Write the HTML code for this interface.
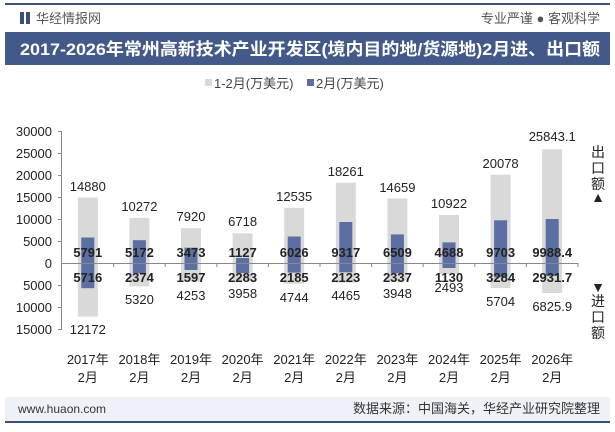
<!DOCTYPE html>
<html><head><meta charset="utf-8"><style>
body{margin:0;width:615px;height:427px;overflow:hidden;background:#fff;font-family:"Liberation Sans","Noto Sans CJK SC",sans-serif}
</style></head><body>
<svg width="615" height="427" viewBox="0 0 615 427" xmlns="http://www.w3.org/2000/svg" font-family="Liberation Sans, Noto Sans CJK SC, sans-serif">
<rect x="5" y="3" width="605" height="2" fill="#3a4f7a"/>
<rect x="20" y="12" width="4" height="12" fill="#3a4f7a"/><rect x="26" y="12" width="4" height="12" fill="#3a4f7a"/>
<text x="36" y="23" font-size="13" fill="#555">华经情报网</text>
<text x="600" y="23" font-size="13" fill="#555" text-anchor="end">专业严谨 ● 客观科学</text>
<rect x="5" y="32" width="605" height="33" fill="#43598a"/>
<text x="20" y="55" font-size="17" font-weight="bold" fill="#fff" textLength="580" lengthAdjust="spacingAndGlyphs">2017-2026年常州高新技术产业开发区(境内目的地/货源地)2月进、出口额</text>
<rect x="205" y="79" width="7" height="7" fill="#d9d9d9"/><text x="214" y="88" font-size="13" fill="#444">1-2月(万美元)</text>
<rect x="307" y="79" width="7" height="7" fill="#5b6fa3"/><text x="316" y="88" font-size="13" fill="#444">2月(万美元)</text>
<g font-size="13" fill="#222" text-anchor="end">
<text x="52" y="136">30000</text><text x="52" y="158">25000</text><text x="52" y="180">20000</text><text x="52" y="202">15000</text><text x="52" y="224">10000</text><text x="52" y="246">5000</text><text x="52" y="268">0</text><text x="52" y="290">5000</text><text x="52" y="312">10000</text><text x="52" y="334">15000</text>
</g>
<line x1="61.5" y1="131" x2="61.5" y2="329" stroke="#888"/>
<g stroke="#888"><line x1="58" y1="131.5" x2="62" y2="131.5"/><line x1="58" y1="153.5" x2="62" y2="153.5"/><line x1="58" y1="175.5" x2="62" y2="175.5"/><line x1="58" y1="197.5" x2="62" y2="197.5"/><line x1="58" y1="219.5" x2="62" y2="219.5"/><line x1="58" y1="241.5" x2="62" y2="241.5"/><line x1="58" y1="285.5" x2="62" y2="285.5"/><line x1="58" y1="307.5" x2="62" y2="307.5"/><line x1="58" y1="329.5" x2="62" y2="329.5"/></g>
<g fill="#d9d9d9">
<rect x="77.8" y="197.5" width="20" height="119.1"/><rect x="129.4" y="217.8" width="20" height="68.6"/><rect x="181" y="228.2" width="20" height="53.5"/><rect x="232.6" y="233.4" width="20" height="47"/><rect x="284.2" y="207.8" width="20" height="76.1"/><rect x="335.8" y="182.7" width="20" height="99.9"/><rect x="387.4" y="198.5" width="20" height="81.9"/><rect x="439" y="214.9" width="20" height="59.1"/><rect x="490.6" y="174.7" width="20" height="113.4"/><rect x="542.2" y="149.3" width="20" height="143.7"/>
</g>
<g fill="#5b6fa3">
<rect x="81.3" y="237.5" width="13" height="50.7"/><rect x="132.9" y="240.2" width="13" height="33.2"/><rect x="184.5" y="247.7" width="13" height="22.3"/><rect x="236.1" y="258" width="13" height="15"/><rect x="287.7" y="236.5" width="13" height="36.1"/><rect x="339.3" y="222" width="13" height="50.3"/><rect x="390.9" y="234.4" width="13" height="38.9"/><rect x="442.5" y="242.4" width="13" height="25.6"/><rect x="494.1" y="220.3" width="13" height="57.1"/><rect x="545.7" y="219" width="13" height="56.9"/>
</g>
<line x1="62" y1="263.5" x2="578" y2="263.5" stroke="#888"/>
<g stroke="#888"><line x1="113.6" y1="263" x2="113.6" y2="267"/><line x1="165.2" y1="263" x2="165.2" y2="267"/><line x1="216.8" y1="263" x2="216.8" y2="267"/><line x1="268.4" y1="263" x2="268.4" y2="267"/><line x1="320" y1="263" x2="320" y2="267"/><line x1="371.6" y1="263" x2="371.6" y2="267"/><line x1="423.2" y1="263" x2="423.2" y2="267"/><line x1="474.8" y1="263" x2="474.8" y2="267"/><line x1="526.4" y1="263" x2="526.4" y2="267"/><line x1="578" y1="263" x2="578" y2="267"/></g>
<g font-size="13" fill="#222" text-anchor="middle">
<text x="87.8" y="191">14880</text><text x="139.4" y="211">10272</text><text x="191" y="221">7920</text><text x="242.6" y="226">6718</text><text x="294.2" y="201">12535</text><text x="345.8" y="176">18261</text><text x="397.4" y="192">14659</text><text x="449" y="208">10922</text><text x="500.6" y="168">20078</text><text x="552.2" y="141">25843.1</text>
<text x="87.8" y="334">12172</text><text x="139.4" y="304">5320</text><text x="191" y="300">4253</text><text x="242.6" y="298">3958</text><text x="294.2" y="302">4744</text><text x="345.8" y="300">4465</text><text x="397.4" y="298">3948</text><text x="449" y="292">2493</text><text x="500.6" y="306">5704</text><text x="552.2" y="311">6825.9</text>
</g>
<g font-size="13" font-weight="bold" fill="#222" text-anchor="middle">
<text x="87.8" y="257">5791</text><text x="139.4" y="257">5172</text><text x="191" y="257">3473</text><text x="242.6" y="257">1127</text><text x="294.2" y="257">6026</text><text x="345.8" y="257">9317</text><text x="397.4" y="257">6509</text><text x="449" y="257">4688</text><text x="500.6" y="257">9703</text><text x="552.2" y="257">9988.4</text>
<text x="87.8" y="282">5716</text><text x="139.4" y="282">2374</text><text x="191" y="282">1597</text><text x="242.6" y="282">2283</text><text x="294.2" y="282">2185</text><text x="345.8" y="282">2123</text><text x="397.4" y="282">2337</text><text x="449" y="282">1130</text><text x="500.6" y="282">3284</text><text x="552.2" y="282">2931.7</text>
</g>
<g font-size="13" fill="#222" text-anchor="middle">
<text x="87.8" y="364">2017年</text><text x="139.4" y="364">2018年</text><text x="191" y="364">2019年</text><text x="242.6" y="364">2020年</text><text x="294.2" y="364">2021年</text><text x="345.8" y="364">2022年</text><text x="397.4" y="364">2023年</text><text x="449" y="364">2024年</text><text x="500.6" y="364">2025年</text><text x="552.2" y="364">2026年</text>
<text x="87.8" y="382">2月</text><text x="139.4" y="382">2月</text><text x="191" y="382">2月</text><text x="242.6" y="382">2月</text><text x="294.2" y="382">2月</text><text x="345.8" y="382">2月</text><text x="397.4" y="382">2月</text><text x="449" y="382">2月</text><text x="500.6" y="382">2月</text><text x="552.2" y="382">2月</text>
</g>
<g font-size="14" fill="#222" text-anchor="middle">
<text x="598" y="157">出</text><text x="598" y="173">口</text><text x="598" y="189">额</text><text x="598" y="202">▲</text>
<text x="598" y="292">▼</text><text x="598" y="306">进</text><text x="598" y="322">口</text><text x="598" y="338">额</text>
</g>
<rect x="5" y="397" width="605" height="24" fill="#eef2f8"/>
<text x="18" y="413" font-size="12" fill="#333">www.huaon.com</text>
<text x="600" y="413" font-size="13" fill="#333" text-anchor="end">数据来源：中国海关，华经产业研究院整理</text>
<rect x="5" y="421" width="605" height="2" fill="#3a4f7a"/>
</svg>
</body></html>
